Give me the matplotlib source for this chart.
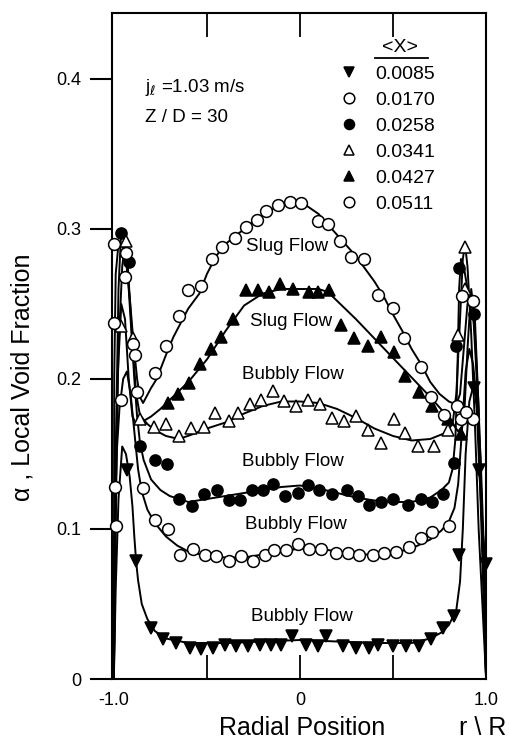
import matplotlib
matplotlib.use('Agg')
import matplotlib.pyplot as plt
from matplotlib.lines import Line2D

plt.rcParams['font.family'] = ['Liberation Sans', 'DejaVu Sans']

# quality <x> of each run
labels = ['0.0085', '0.0170', '0.0258', '0.0341', '0.0427', '0.0511']

# measured points (r/R, alpha)
x_0085 = [-0.93, -0.882, -0.798, -0.736, -0.664, -0.592, -0.530, -0.468, -0.405, -0.342, -0.280,
          -0.217, -0.154, -0.101, -0.042, 0.033, 0.095, 0.140, 0.229, 0.301, 0.373, 0.417,
          0.498, 0.569, 0.641, 0.703, 0.766, 0.828, 0.855, 0.936, 0.962, 1.0]
y_0085 = [0.139, 0.079, 0.034, 0.027, 0.024, 0.021, 0.020, 0.021, 0.023, 0.022, 0.022,
          0.023, 0.023, 0.023, 0.029, 0.023, 0.022, 0.029, 0.022, 0.021, 0.021, 0.023,
          0.022, 0.022, 0.022, 0.027, 0.034, 0.042, 0.083, 0.194, 0.139, 0.077]

x_0170 = [-0.995, -0.986, -0.959, -0.843, -0.780, -0.709, -0.646, -0.575, -0.512, -0.449, -0.382,
          -0.315, -0.253, -0.190, -0.137, -0.074, -0.012, 0.051, 0.114, 0.194, 0.256, 0.319,
          0.390, 0.453, 0.516, 0.587, 0.650, 0.712, 0.802, 0.864, 0.927, 0.927]
y_0170 = [0.128, 0.102, 0.186, 0.127, 0.106, 0.100, 0.083, 0.087, 0.083, 0.082, 0.079,
          0.082, 0.079, 0.083, 0.086, 0.086, 0.090, 0.087, 0.087, 0.084, 0.084, 0.083,
          0.083, 0.084, 0.085, 0.088, 0.094, 0.098, 0.102, 0.173, 0.173, 0.252]

x_0258 = [-0.959, -0.918, -0.861, -0.780, -0.717, -0.651, -0.580, -0.516, -0.444, -0.383, -0.324,
          -0.258, -0.199, -0.146, -0.083, -0.012, 0.042, 0.101, 0.173, 0.251, 0.310, 0.369,
          0.435, 0.501, 0.578, 0.650, 0.712, 0.769, 0.828, 0.838, 0.855, 0.936]
y_0258 = [0.297, 0.278, 0.155, 0.146, 0.143, 0.120, 0.115, 0.123, 0.126, 0.119, 0.119,
          0.126, 0.126, 0.130, 0.122, 0.124, 0.129, 0.126, 0.123, 0.126, 0.122, 0.116,
          0.118, 0.120, 0.116, 0.120, 0.118, 0.123, 0.144, 0.222, 0.274, 0.243]

x_0341 = [-0.959, -0.936, -0.897, -0.861, -0.784, -0.721, -0.651, -0.587, -0.517, -0.458, -0.382,
          -0.334, -0.271, -0.208, -0.146, -0.087, -0.020, 0.042, 0.108, 0.173, 0.239, 0.301,
          0.364, 0.435, 0.507, 0.566, 0.632, 0.721, 0.798, 0.850, 0.887, 0.887]
y_0341 = [0.235, 0.292, 0.227, 0.173, 0.168, 0.170, 0.162, 0.167, 0.168, 0.177, 0.172,
          0.177, 0.183, 0.186, 0.192, 0.185, 0.182, 0.186, 0.183, 0.174, 0.172, 0.175,
          0.166, 0.157, 0.173, 0.164, 0.155, 0.155, 0.166, 0.229, 0.260, 0.288]

x_0427 = [-0.709, -0.655, -0.596, -0.539, -0.476, -0.423, -0.360, -0.289, -0.226, -0.167, -0.106,
          -0.035, 0.047, 0.095, 0.158, 0.221, 0.292, 0.364, 0.435, 0.507, 0.566, 0.641,
          0.712, 0.793, 0.863]
y_0427 = [0.184, 0.190, 0.197, 0.210, 0.220, 0.228, 0.240, 0.259, 0.259, 0.258, 0.263,
          0.260, 0.258, 0.258, 0.259, 0.236, 0.227, 0.222, 0.228, 0.218, 0.202, 0.191,
          0.182, 0.173, 0.163]

x_0511 = [-1.0, -1.0, -0.941, -0.932, -0.896, -0.887, -0.878, -0.780, -0.721, -0.650, -0.600,
          -0.530, -0.473, -0.419, -0.351, -0.292, -0.229, -0.181, -0.119, -0.056, 0.006, 0.095,
          0.149, 0.216, 0.275, 0.346, 0.417, 0.498, 0.560, 0.650, 0.703, 0.775, 0.846, 0.873, 0.891]
y_0511 = [0.290, 0.237, 0.268, 0.284, 0.223, 0.216, 0.191, 0.204, 0.222, 0.242, 0.259,
          0.262, 0.280, 0.288, 0.294, 0.301, 0.306, 0.312, 0.316, 0.318, 0.317, 0.305,
          0.303, 0.292, 0.281, 0.280, 0.256, 0.247, 0.227, 0.208, 0.188, 0.176, 0.182, 0.255, 0.178]

# hand-drawn fitted curves
cx_0085 = [-1.0, -0.99, -0.975, -0.955, -0.935, -0.915, -0.90, -0.89, -0.88, -0.87, -0.85, -0.82,
           -0.78, -0.72, -0.6, -0.4, -0.2, 0.0, 0.2, 0.4, 0.6, 0.7, 0.76, 0.80, 0.84, 0.86, 0.875,
           0.89, 0.91, 0.935, 0.95, 0.965, 0.98, 1.0, 1.0]
cy_0085 = [0.0, 0.06, 0.12, 0.155, 0.15, 0.135, 0.115, 0.095, 0.078, 0.066, 0.05, 0.04,
           0.032, 0.027, 0.024, 0.024, 0.025, 0.026, 0.025, 0.024, 0.024, 0.027, 0.031, 0.036,
           0.046, 0.065, 0.10, 0.15, 0.185, 0.197, 0.18, 0.135, 0.10, 0.077, 0.0]

cx_0170 = [-1.0, -0.995, -0.985, -0.97, -0.95, -0.93, -0.91, -0.89, -0.87, -0.85, -0.82, -0.78,
           -0.72, -0.66, -0.6, -0.5, -0.4, -0.3, -0.2, -0.1, 0.0, 0.1, 0.2, 0.3, 0.4, 0.5, 0.6,
           0.7, 0.76, 0.8, 0.83, 0.85, 0.87, 0.89, 0.91, 0.93, 0.95, 0.97, 0.99, 1.0]
cy_0170 = [0.0, 0.1, 0.15, 0.18, 0.2, 0.205, 0.19, 0.165, 0.14, 0.125, 0.113, 0.104,
           0.095, 0.089, 0.085, 0.082, 0.081, 0.081, 0.083, 0.085, 0.087, 0.087, 0.085, 0.083,
           0.083, 0.084, 0.087, 0.093, 0.099, 0.105, 0.114, 0.13, 0.165, 0.205, 0.22, 0.21,
           0.185, 0.15, 0.08, 0.0]

cx_0258 = [-1.0, -0.99, -0.975, -0.96, -0.945, -0.925, -0.905, -0.89, -0.875, -0.86, -0.84, -0.8,
           -0.75, -0.7, -0.6, -0.5, -0.4, -0.3, -0.2, -0.1, 0.0, 0.1, 0.2, 0.3, 0.4, 0.5, 0.6,
           0.7, 0.76, 0.8, 0.82, 0.835, 0.845, 0.855, 0.865, 0.88, 0.9, 0.93, 0.95, 0.97, 1.0]
cy_0258 = [0.0, 0.15, 0.26, 0.3, 0.295, 0.27, 0.23, 0.2, 0.175, 0.158, 0.146, 0.133,
           0.126, 0.122, 0.118, 0.12, 0.122, 0.124, 0.126, 0.128, 0.129, 0.127, 0.124, 0.121,
           0.119, 0.118, 0.118, 0.121, 0.126, 0.131, 0.14, 0.16, 0.2, 0.26, 0.28, 0.275, 0.26,
           0.245, 0.2, 0.12, 0.0]

cx_0341 = [-1.0, -0.99, -0.975, -0.955, -0.94, -0.925, -0.91, -0.895, -0.88, -0.86, -0.82, -0.78,
           -0.72, -0.65, -0.58, -0.5, -0.4, -0.3, -0.2, -0.1, 0.0, 0.1, 0.2, 0.3, 0.4, 0.5, 0.6,
           0.7, 0.78, 0.82, 0.84, 0.86, 0.875, 0.887, 0.9, 0.92, 0.94, 0.96, 0.98, 1.0]
cy_0341 = [0.0, 0.12, 0.22, 0.275, 0.29, 0.275, 0.245, 0.215, 0.19, 0.176, 0.17, 0.166,
           0.162, 0.16, 0.163, 0.167, 0.171, 0.177, 0.182, 0.185, 0.185, 0.184, 0.18, 0.174,
           0.167, 0.162, 0.159, 0.16, 0.164, 0.17, 0.19, 0.24, 0.28, 0.29, 0.275, 0.23, 0.17,
           0.1, 0.05, 0.0]

cx_0427 = [-1.0, -0.98, -0.96, -0.94, -0.92, -0.9, -0.88, -0.84, -0.8, -0.75, -0.7, -0.6, -0.5,
           -0.4, -0.3, -0.2, -0.1, 0.0, 0.1, 0.15, 0.2, 0.3, 0.4, 0.5, 0.6, 0.7, 0.8, 0.85, 0.88,
           0.9, 0.92, 0.94, 0.96, 0.98, 1.0]
cy_0427 = [0.0, 0.2, 0.25, 0.24, 0.2, 0.175, 0.17, 0.172, 0.175, 0.18, 0.186, 0.198, 0.213,
           0.232, 0.249, 0.257, 0.26, 0.26, 0.26, 0.258, 0.252, 0.24, 0.227, 0.214, 0.201, 0.188,
           0.174, 0.165, 0.17, 0.22, 0.26, 0.24, 0.18, 0.1, 0.0]

cx_0511 = [-1.0, -0.998, -0.99, -0.975, -0.955, -0.935, -0.915, -0.895, -0.875, -0.86, -0.843,
           -0.8, -0.77, -0.72, -0.68, -0.6, -0.54, -0.5, -0.45, -0.4, -0.33, -0.25, -0.15, -0.08,
           -0.02, 0.03, 0.1, 0.15, 0.2, 0.3, 0.4, 0.45, 0.5, 0.55, 0.6, 0.65, 0.7, 0.75, 0.8,
           0.84, 0.86, 0.88, 0.9, 0.92, 0.94, 0.96, 0.98, 1.0]
cy_0511 = [0.0, 0.2, 0.27, 0.29, 0.29, 0.28, 0.255, 0.225, 0.2, 0.188, 0.184,
           0.194, 0.2, 0.216, 0.228, 0.247, 0.257, 0.27, 0.282, 0.29, 0.297, 0.305, 0.313, 0.317,
           0.319, 0.316, 0.31, 0.303, 0.296, 0.282, 0.265, 0.255, 0.243, 0.232, 0.22, 0.21,
           0.198, 0.19, 0.185, 0.183, 0.19, 0.22, 0.25, 0.255, 0.23, 0.18, 0.1, 0.0]

flow_text = ['Slug Flow', 'Slug Flow', 'Bubbly Flow', 'Bubbly Flow', 'Bubbly Flow', 'Bubbly Flow']
flow_x = [-0.07, -0.05, -0.04, -0.04, -0.02, 0.01]
flow_y = [0.288, 0.238, 0.203, 0.145, 0.103, 0.042]

fig = plt.figure(figsize=(5.09, 7.42), dpi=100)
ax = fig.add_axes([0.220, 0.0849, 0.735, 0.8976])

series = [
    (x_0085, y_0085, cx_0085, cy_0085, dict(marker='v', mfc='black', ms=8)),
    (x_0170, y_0170, cx_0170, cy_0170, dict(marker='o', mfc='white', ms=8.5)),
    (x_0258, y_0258, cx_0258, cy_0258, dict(marker='o', mfc='black', ms=8)),
    (x_0341, y_0341, cx_0341, cy_0341, dict(marker='^', mfc='white', ms=8.5)),
    (x_0427, y_0427, cx_0427, cy_0427, dict(marker='^', mfc='black', ms=8.5)),
    (x_0511, y_0511, cx_0511, cy_0511, dict(marker='o', mfc='white', ms=8.5)),
]

handles = []
for xs, ys, cxs, cys, st in series:
    ax.plot(cxs, cys, color='black', lw=1.4, zorder=2)
    h, = ax.plot(xs, ys, ls='none', mec='black', mew=1.1, zorder=3, clip_on=False, **st)
    handles.append(h)

ax.set_xlim(-1.01, 1.0)
ax.set_ylim(0, 0.444)

for s in ax.spines.values():
    s.set_linewidth(1.5)

ax.set_yticks([0, 0.1, 0.2, 0.3, 0.4])
ax.set_yticklabels(['0', '0.1', '0.2', '0.3', '0.4'])
ax.tick_params(axis='y', direction='out', length=16, width=1.5, pad=6, labelsize=13)

ax.set_xticks([-1, -0.5, 0, 0.5, 1])
ax.set_xticklabels(['-1.0', '', '0', '', '1.0'])
ax.tick_params(axis='x', direction='in', length=17, width=1.3, pad=9, labelsize=13,
               top=True, bottom=True)
xt = ax.xaxis.get_major_ticks()
for t in (xt[0], xt[-1]):
    t.tick1line.set_visible(False)
    t.tick2line.set_visible(False)

for t, fx, fy in zip(flow_text, flow_x, flow_y):
    ax.text(fx, fy, t, ha='center', va='center', fontsize=13.5)

ax.text(-0.833, 0.391, r'j$_{\ell}$ =1.03 m/s', fontsize=13.5, va='baseline')
ax.text(-0.833, 0.371, 'Z / D = 30', fontsize=13.5, va='baseline')

# legend with underlined header
ax.text(0.538, 0.418, '<X>', fontsize=14, ha='center', va='baseline')
ax.add_line(Line2D([0.403, 0.688], [0.414, 0.414], color='black', lw=1.3))
ax.legend(handles, labels, loc='upper left', bbox_to_anchor=(0.608, 0.9215),
          frameon=False, fontsize=14, handlelength=1.0, handletextpad=0.84,
          borderpad=0, borderaxespad=0, labelspacing=0.43, markerscale=0.9)

fig.text(0.593, 0.009, 'Radial Position', fontsize=18, ha='center', va='baseline')
fig.text(0.949, 0.009, 'r \\ R', fontsize=18, ha='center', va='baseline')
fig.text(0.045, 0.492, 'α , Local Void Fraction', fontsize=18, rotation=90,
         ha='center', va='center')

fig.savefig('out.png', dpi=100)
